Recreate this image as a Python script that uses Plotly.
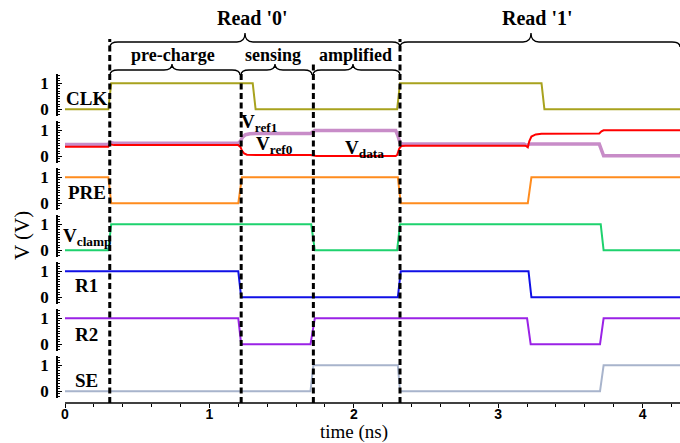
import plotly.graph_objects as go

# ---------------- data ----------------
clk_t = [0, 0.30, 0.32, 1.30, 1.32, 2.30, 2.32, 3.30, 3.32, 4.3]
clk_v = [0, 0, 1, 1, 0, 0, 1, 1, 0, 0]

vrefA_t = [0, 0.30, 0.31, 0.325, 0.34, 1.20, 1.215, 1.23, 1.25, 1.28, 1.32, 1.70, 1.715, 1.73,
           2.29, 2.305, 2.32, 2.34, 3.18, 3.195, 3.205, 3.22, 3.70, 3.715, 3.73, 4.3]
vrefA_v = [0.45, 0.45, 0.53, 0.50, 0.50, 0.50, 0.58, 0.74, 0.83, 0.87, 0.88, 0.88, 0.95, 0.99,
           0.99, 0.80, 0.52, 0.47, 0.47, 0.42, 0.44, 0.47, 0.47, 0.25, 0.02, 0.02]

vrefB_t = [0, 0.30, 0.31, 0.325, 0.34, 1.20, 1.215, 1.225, 1.24, 1.26, 1.30, 1.35, 1.70, 1.72, 1.74,
           2.29, 2.30, 2.315, 2.33, 2.36, 3.19, 3.205, 3.215, 3.23, 3.26, 3.30, 3.70, 3.715, 3.73, 4.3]
vrefB_v = [0.37, 0.37, 0.46, 0.43, 0.43, 0.43, 0.36, 0.22, 0.11, 0.06, 0.05, 0.05, 0.05, 0.02, 0.01,
           0.01, 0.05, 0.30, 0.40, 0.41, 0.41, 0.35, 0.58, 0.76, 0.84, 0.87, 0.88, 0.96, 1.0, 1.0]

pre_t = [0, 0.30, 0.32, 1.20, 1.225, 2.305, 2.325, 3.205, 3.23, 4.3]
pre_v = [1, 1, 0, 0, 1, 1, 0, 0, 1, 1]

vclamp_t = [0, 0.30, 0.32, 1.705, 1.73, 2.30, 2.32, 3.71, 3.73, 4.3]
vclamp_v = [0, 0, 1, 1, 0, 0, 1, 1, 0, 0]

r1_t = [0, 1.20, 1.22, 2.305, 2.325, 3.21, 3.23, 4.3]
r1_v = [1, 1, 0, 0, 1, 1, 0, 0]

r2_t = [0, 1.20, 1.22, 1.70, 1.73, 3.20, 3.225, 3.705, 3.73, 4.3]
r2_v = [1, 1, 0, 0, 1, 1, 0, 0, 1, 1]

se_t = [0, 1.70, 1.72, 2.305, 2.32, 3.705, 3.73, 4.3]
se_v = [0, 0, 1, 1, 0, 0, 1, 1]

signal_labels = ["CLK", "", "PRE", "V<sub>clamp</sub>", "R1", "R2", "SE"]
phase_lines = [0.31, 1.22, 1.72, 2.32]
x_ticks = [0, 1, 2, 3, 4]

# ---------------- layout helpers ----------------
W, H = 680, 443
L, R, T, B = 57, 0, 20, 40
PW, PH = W - L - R, H - T - B
PXNS = 144.4
X0PX = 65
xmin = -(X0PX - L) / PXNS
xmax = (W - X0PX) / PXNS


def py(p):  # pixel y -> paper y
    return (H - B - p) / PH


def pxp(p):  # pixel x -> paper x
    return (p - L) / PW


def tx(p):  # pixel x -> data x
    return (p - X0PX) / PXNS


YR = [-0.27, 1.35]
UNIT = 26.0
colors = ["#a8a21e", None, "#ff8c1e", "#1ed26e", "#1010e6", "#9a22e6", "#a8b4cc"]
series = [(clk_t, clk_v), None, (pre_t, pre_v), (vclamp_t, vclamp_v),
          (r1_t, r1_v), (r2_t, r2_v), (se_t, se_v)]

fig = go.Figure()
layout = {}
serif = "Liberation Serif"

for k in range(7):
    yname = "y" if k == 0 else f"y{k+1}"
    lname = "yaxis" if k == 0 else f"yaxis{k+1}"
    y1px = 83.3 + 47.0 * k
    top = y1px - (YR[1] - 1) * UNIT
    bot = y1px + (1 - YR[0]) * UNIT
    layout[lname] = dict(
        domain=[py(bot), py(top)], range=YR, anchor="free", position=0,
        tickmode="linear", tick0=0, dtick=1, ticks="inside", ticklen=4, tickwidth=1.2,
        tickcolor="black",
        minor=dict(ticks="inside", tickmode="linear", tick0=0, dtick=0.1, ticklen=2.5,
                   tickwidth=1, tickcolor="black", showgrid=False),
        showline=True, linecolor="black", linewidth=1.5, showgrid=False, zeroline=False,
        tickfont=dict(family=serif, size=17, color="black", weight="bold"),
        ticklabelstandoff=4,
    )
    if k == 1:
        fig.add_trace(go.Scatter(x=vrefA_t, y=vrefA_v, mode="lines", xaxis="x", yaxis=yname,
                                 line=dict(color="#c88cc8", width=3.5), showlegend=False))
        fig.add_trace(go.Scatter(x=vrefB_t, y=vrefB_v, mode="lines", xaxis="x", yaxis=yname,
                                 line=dict(color="#ff0000", width=2), showlegend=False))
    else:
        t, v = series[k]
        fig.add_trace(go.Scatter(x=t, y=v, mode="lines", xaxis="x", yaxis=yname,
                                 line=dict(color=colors[k], width=2), showlegend=False))

layout["xaxis"] = dict(
    domain=[0, 1], range=[xmin, xmax], anchor="free", position=0,
    tickmode="array", tickvals=x_ticks, ticks="outside", ticklen=4, tickwidth=1.2,
    tickcolor="black",
    minor=dict(ticks="outside", tickmode="linear", tick0=0, dtick=0.2, ticklen=3,
               tickwidth=1, tickcolor="black", showgrid=False),
    showline=False, showgrid=False, zeroline=False,
    tickfont=dict(family="Liberation Sans", size=14, color="black", weight="bold"),
    ticklabelstandoff=-6,
)

shapes = []
# bottom axis line starting at t=0
shapes.append(dict(type="line", xref="x", yref="paper", x0=0, x1=xmax, y0=0, y1=0,
                   line=dict(color="black", width=1.5)))
# dashed phase lines
tops = [39, 72, 63, 39]
for t0, tp in zip(phase_lines, tops):
    shapes.append(dict(type="line", xref="x", yref="paper", x0=t0, x1=t0, y0=0, y1=py(tp),
                       line=dict(color="black", width=3, dash="6px,3.5px")))


def brace(xa, xb, xt, yend, ymid, ytip):
    d = 8 / PXNS
    a, b, c = py(yend), py(ymid), py(ytip)
    return (f"M {tx(xa)},{a} Q {tx(xa)},{b} {tx(xa)+d},{b} L {tx(xt)-d},{b} "
            f"Q {tx(xt)},{b} {tx(xt)},{c} Q {tx(xt)},{b} {tx(xt)+d},{b} "
            f"L {tx(xb)-d},{b} Q {tx(xb)},{b} {tx(xb)},{a}")


brace_defs = [
    (110, 400, 245, 47, 42, 33),
    (400, 680, 531, 47, 42, 33),
    (110, 240, 172, 75, 70, 64),
    (241, 312, 275, 75, 70, 64),
    (313, 400, 353, 75, 70, 64),
]
for bd in brace_defs:
    shapes.append(dict(type="path", xref="x", yref="paper", path=brace(*bd),
                       line=dict(color="black", width=1.3)))

ann = []


def text(s, xpx, ypx, size, bold=True, family=serif, angle=0, pad=1):
    ann.append(dict(text=s, x=pxp(xpx), y=py(ypx), xref="paper", yref="paper",
                    showarrow=False, xanchor="center", yanchor="middle", textangle=angle,
                    borderpad=pad,
                    font=dict(family=family, size=size, color="black",
                              weight="bold" if bold else "normal")))


text("Read '0'", 252, 18, 20)
text("Read '1'", 537, 18, 20)
text("pre-charge", 173, 55, 18)
text("sensing", 273, 55, 18)
text("amplified", 355, 55, 18)

label_y = [98, None, 192, 237, 286, 334, 380]
for lab, yy in zip(signal_labels, label_y):
    if lab:
        text(lab, 86.5, yy, 19)

text("V<sub>ref1</sub>", 259, 123, 19)
text("V<sub>ref0</sub>", 274, 145, 19)
text("V<sub>data</sub>", 364, 149, 19)

text("time (ns)", 354, 432.5, 19, bold=False, pad=0)
text("V (V)", 22, 236, 21, bold=False, angle=-90)

fig.update_layout(
    width=W, height=H, margin=dict(l=L, r=R, t=T, b=B),
    paper_bgcolor="white", plot_bgcolor="white",
    shapes=shapes, annotations=ann, showlegend=False, **layout,
)

fig.write_html("out.html")
